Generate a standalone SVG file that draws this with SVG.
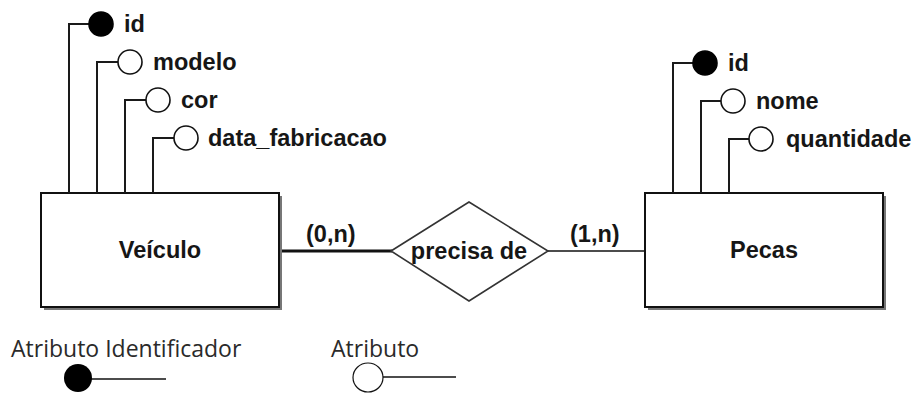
<svg xmlns="http://www.w3.org/2000/svg" width="912" height="394" viewBox="0 0 912 394">
<defs>
<style>
.lbl{font-family:"Liberation Sans",Arial,sans-serif;font-weight:bold;font-size:23.5px;fill:#161616}
.ent{font-family:"Liberation Sans",Arial,sans-serif;font-weight:bold;font-size:23.5px;fill:#161616;text-anchor:middle}
.leg{font-family:"Open Sans","DejaVu Sans",sans-serif;font-size:23px;fill:#2a2a2a}
.box{fill:#fff;stroke:#111;stroke-width:2}
.shadow{fill:#777}
.wire{fill:none;stroke:#1a1a1a;stroke-width:2}
.att{fill:#fff;stroke:#111;stroke-width:1.6}
.key{fill:#000;stroke:#000;stroke-width:1.6}
</style>
</defs>
<rect width="912" height="394" fill="#fff"/>
<g id="connectors">
<line x1="280" y1="251" x2="392" y2="251" stroke="#111" stroke-width="3.2"/>
<line x1="548" y1="251" x2="645" y2="251" stroke="#111" stroke-width="1.6"/>
<text class="lbl" x="306" y="242">(0,n)</text>
<text class="lbl" x="570" y="242">(1,n)</text>
</g>
<g id="veiculo">
<rect class="shadow" x="44" y="196" width="238" height="114"/>
<rect class="box" x="41" y="193" width="238" height="114"/>
<text class="ent" x="160" y="258">Veículo</text>
</g>
<g id="veiculo-id">
<polyline class="wire" points="69,193 69,24 89,24"/>
<circle class="key" cx="101" cy="24" r="12"/>
<text class="lbl" x="124" y="32">id</text>
</g>
<g id="veiculo-modelo">
<polyline class="wire" points="97,193 97,62 118,62"/>
<circle class="att" cx="130" cy="62" r="12"/>
<text class="lbl" x="153" y="70">modelo</text>
</g>
<g id="veiculo-cor">
<polyline class="wire" points="125,193 125,100 146,100"/>
<circle class="att" cx="158" cy="100" r="12"/>
<text class="lbl" x="181" y="108">cor</text>
</g>
<g id="veiculo-data">
<polyline class="wire" points="153,193 153,138 174,138"/>
<circle class="att" cx="186" cy="138" r="12"/>
<text class="lbl" x="208" y="146">data_fabricacao</text>
</g>
<g id="precisa">
<polygon points="391,251 469,202 548,251 469,301" fill="#fff" stroke="#333" stroke-width="1.6"/>
<text class="ent" x="469" y="259">precisa de</text>
</g>
<g id="pecas">
<rect class="shadow" x="648" y="196" width="238" height="114"/>
<rect class="box" x="645" y="193" width="238" height="114"/>
<text class="ent" x="764" y="258">Pecas</text>
</g>
<g id="pecas-id">
<polyline class="wire" points="673,193 673,63 693,63"/>
<circle class="key" cx="705" cy="63" r="12"/>
<text class="lbl" x="728" y="71">id</text>
</g>
<g id="pecas-nome">
<polyline class="wire" points="701,193 701,101 721,101"/>
<circle class="att" cx="733" cy="101" r="12"/>
<text class="lbl" x="756" y="109">nome</text>
</g>
<g id="pecas-quantidade">
<polyline class="wire" points="729,193 729,139 749,139"/>
<circle class="att" cx="761" cy="139" r="12"/>
<text class="lbl" x="786" y="147">quantidade</text>
</g>
<g id="legend">
<text class="leg" x="11" y="357">Atributo Identificador</text>
<line x1="90" y1="379" x2="166" y2="379" stroke="#111" stroke-width="1.6"/>
<circle cx="78" cy="378" r="14" fill="#000"/>
<text class="leg" x="331" y="357">Atributo</text>
<line x1="383" y1="377" x2="456" y2="377" stroke="#111" stroke-width="1.6"/>
<ellipse cx="368" cy="377.5" rx="15" ry="14.5" fill="#fff" stroke="#111" stroke-width="1.2"/>
</g>
</svg>
